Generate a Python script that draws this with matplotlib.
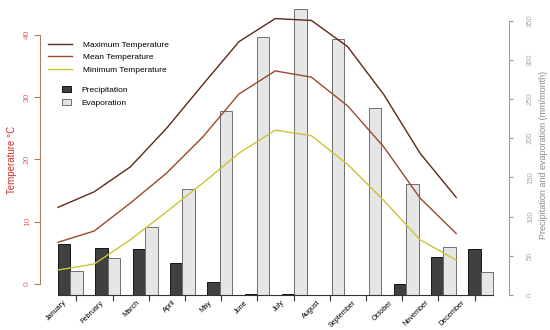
import matplotlib
matplotlib.use("Agg")
import matplotlib.pyplot as plt
from matplotlib.lines import Line2D
from matplotlib.patches import Patch

plt.rcParams["font.family"] = ["Liberation Sans", "DejaVu Sans"]

# ---- data ----
months = ["January", "February", "March", "April", "May", "June",
          "July", "August", "September", "October", "November", "December"]
t_max = [12.3, 14.8, 18.8, 25.0, 32.0, 38.9, 42.6, 42.3, 38.1, 30.4, 21.0, 13.9]
t_mean = [6.7, 8.5, 13.0, 17.8, 23.6, 30.5, 34.2, 33.2, 28.6, 22.0, 13.8, 8.1]
t_min = [2.25, 3.2, 7.1, 11.6, 16.2, 21.0, 24.7, 23.8, 19.2, 13.4, 7.1, 3.85]
precip = [64.7, 59.5, 58.3, 40.8, 16.2, 1.7, 1.0, 0.0, 0.5, 13.6, 48.9, 58.3]
evap = [30.6, 46.8, 87.0, 135.0, 235.0, 328.6, 365.0, 327.0, 239.0, 141.6, 60.8, 29.7]

# ---- layout ----
W, H = 550, 330
fig = plt.figure(figsize=(W / 100, H / 100), dpi=100)
ax2 = fig.add_axes([40 / W, 30 / H, 469 / W, 295 / H])   # bars, right scale
ax = ax2.twinx()                                          # lines, left scale
ax.yaxis.tick_left()
ax.yaxis.set_label_position("left")
ax2.yaxis.tick_right()
ax2.yaxis.set_label_position("right")
ax.set_zorder(ax2.get_zorder() + 1)
ax.patch.set_visible(False)

n = len(months)
x_line = list(range(n))
step = 37.3 / 36.2           # bar groups are slightly wider spaced than line points
bw = 0.345
x_dark = [i * step for i in range(n)]
x_light = [i * step + bw for i in range(n)]

ax2.bar(x_dark, precip, width=bw, align="edge", color="#404040",
        edgecolor="#151515", linewidth=0.7, label="Precipitation")
ax2.bar(x_light, evap, width=bw, align="edge", color="#e6e6e6",
        edgecolor="#6e6e6e", linewidth=0.7, label="Evaporation")

c_max, c_mean, c_min = "#5e2818", "#9a4a2a", "#cdc33a"
ax.plot(x_line, t_max, color=c_max, lw=1.0)
ax.plot(x_line, t_mean, color=c_mean, lw=1.0)
ax.plot(x_line, t_min, color=c_min, lw=1.0)

xlo, xhi = -18 / 36.2, 451 / 36.2
ax2.set_xlim(xlo, xhi)
ax.set_ylim(-2.568, 44.78)
ax2.set_ylim(-6.38, 369.9)

# ---- R-like axes ----
for a in (ax, ax2):
    for s in ("top", "bottom", "left", "right"):
        a.spines[s].set_visible(False)

ax.spines["left"].set_visible(True)
ax.spines["left"].set_bounds(0, 40)
ax.spines["left"].set_color("#a8805e")
ax.set_yticks([0, 10, 20, 30, 40])
ax.tick_params(axis="y", colors="#a8805e", labelcolor="#e06a6a", labelsize=6,
               length=4, width=0.8, pad=2.5, labelrotation=90)
for lab in ax.get_yticklabels():
    lab.set_va("center")

ax2.spines["right"].set_visible(True)
ax2.spines["right"].set_bounds(0, 350)
ax2.spines["right"].set_color("#9a9a9a")
ax2.set_yticks(range(0, 351, 50))
ax2.tick_params(axis="y", colors="#9a9a9a", labelcolor="#a8a8a8", labelsize=5.5,
                length=3, width=0.8, pad=10, labelrotation=90)
for lab in ax2.get_yticklabels():
    lab.set_va("center")

# bottom axis sits at precipitation/evaporation 0
ax2.spines["bottom"].set_visible(True)
ax2.spines["bottom"].set_position(("data", 0))
ax2.spines["bottom"].set_bounds(x_dark[0], x_light[-1] + bw)
ax2.spines["bottom"].set_color("#333333")
ax2.spines["bottom"].set_linewidth(0.8)
ticks = [i + 0.51 for i in range(n)]
ax2.set_xticks(ticks)
ax2.set_xticklabels([])
ax2.set_xticks([t - 0.36 for t in ticks], minor=True)
ax2.set_xticklabels(months, minor=True, rotation=45, ha="right",
                    rotation_mode="anchor", fontsize=5.2)
ax2.tick_params(axis="x", which="major", length=4, width=0.8, color="#333333")
ax2.tick_params(axis="x", which="minor", length=0, pad=3)

fig.text(12 / W, (H - 160) / H, "Temperature °C", rotation=90, color="#cc2a2a",
         fontsize=7, ha="center", va="center")
fig.text(543 / W, (H - 155) / H, "Precipitation and evaporation (mm/month)",
         rotation=90, color="#8a8a8a", fontsize=6.5, ha="center", va="center")

# ---- legends ----
line_handles = [Line2D([], [], color=c_max, lw=1.0),
                Line2D([], [], color=c_mean, lw=1.0),
                Line2D([], [], color=c_min, lw=1.0)]
leg1 = ax.legend(line_handles, ["Maximum Temperature", "Mean Temperature",
                                "Minimum Temperature"],
                 loc="upper left", bbox_to_anchor=(48 / W, (H - 41) / H),
                 bbox_transform=fig.transFigure, frameon=False, fontsize=6,
                 handlelength=2.9, handletextpad=1.3, labelspacing=0.55,
                 borderpad=0, borderaxespad=0)
ax.add_artist(leg1)
bar_handles = [Patch(facecolor="#404040", edgecolor="#151515", lw=0.7),
               Patch(facecolor="#e6e6e6", edgecolor="#6e6e6e", lw=0.7)]
ax.legend(bar_handles, ["Precipitation", "Evaporation"],
          loc="upper left", bbox_to_anchor=(62 / W, (H - 86) / H),
          bbox_transform=fig.transFigure, frameon=False, fontsize=6,
          handlelength=1.1, handleheight=0.8, handletextpad=1.2,
          labelspacing=0.55, borderpad=0, borderaxespad=0)

fig.savefig("out.png", dpi=100)
